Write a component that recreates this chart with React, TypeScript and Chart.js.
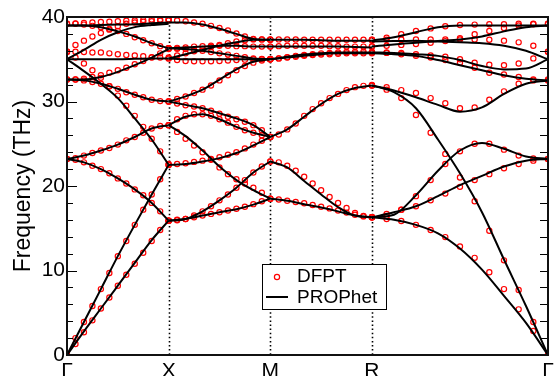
import React, { useEffect, useRef } from 'react';
import { Chart, registerables } from 'chart.js';

Chart.register(...registerables);

// High-symmetry path (Γ-X-M-R-Γ) positions and labels
const K_POS = [0, 0.5, 1.0, 1.5, 2.366];
const K_LABELS = ['Γ', 'X', 'M', 'R', 'Γ'];
const Y_MIN = 0;
const Y_MAX = 40;
const Y_STEP = 10;
const Y_MINOR = 2;
const Y_TITLE = 'Frequency (THz)';
const LABEL_DFPT = 'DFPT';
const LABEL_PROPHET = 'PROPhet';

// PROPhet bands, per segment (7 samples on short segments, 9 on R-Γ)
const prophetGX = [
  [0, 2.8, 5.5, 8.2, 10.9, 13.6, 15.9],
  [0, 3.9, 7.8, 11.7, 15.4, 19.0, 22.5],
  [23.2, 22.8, 22.0, 20.9, 19.6, 18.0, 15.9],
  [23.2, 23.6, 24.2, 24.9, 25.8, 26.8, 27.2],
  [32.6, 32.5, 32.1, 31.5, 30.8, 30.2, 30.0],
  [32.6, 32.6, 32.9, 33.5, 34.3, 35.2, 36.2],
  [35.0, 33.6, 32.1, 30.4, 28.0, 25.5, 22.5],
  [35.0, 35.0, 35.0, 35.0, 35.05, 35.1, 35.1],
  [35.0, 36.1, 37.3, 38.2, 38.8, 39.05, 39.2],
  [39.0, 39.0, 38.8, 38.3, 37.7, 36.9, 36.3],
  [39.0, 39.0, 39.05, 39.1, 39.15, 39.25, 39.35],
];
const prophetXM = [
  [15.9, 16.1, 16.5, 16.9, 17.25, 17.8, 18.5],
  [15.9, 16.1, 17.0, 18.3, 19.8, 21.6, 22.9],
  [22.5, 22.6, 22.9, 23.3, 23.9, 24.8, 25.8],
  [27.2, 25.9, 24.2, 22.3, 20.7, 19.5, 18.5],
  [27.2, 28.2, 28.5, 27.9, 27.0, 26.3, 25.8],
  [30.0, 29.6, 29.2, 28.6, 28.0, 27.2, 25.8],
  [30.0, 30.6, 31.4, 32.6, 33.8, 34.7, 35.0],
  [39.35, 39.35, 39.1, 38.6, 38.0, 37.4, 37.3],
  [36.3, 36.4, 36.5, 36.6, 36.6, 36.5, 36.5],
  [36.3, 36.2, 36.0, 35.7, 35.4, 35.1, 35.0],
  [35.1, 35.6, 36.1, 36.6, 37.0, 37.3, 37.3],
  [35.1, 35.0, 35.0, 35.0, 35.0, 35.0, 35.0],
];
const prophetMR = [
  [18.5, 18.25, 17.85, 17.45, 17.0, 16.5, 16.3],
  [22.9, 22.2, 20.6, 19.0, 17.5, 16.5, 16.3],
  [25.8, 26.7, 28.2, 29.7, 30.9, 31.6, 31.9],
  [35.0, 35.2, 35.4, 35.6, 35.7, 35.7, 35.7],
  [35.0, 35.3, 35.55, 35.7, 35.8, 35.8, 35.8],
  [36.5, 36.5, 36.5, 36.5, 36.5, 36.45, 36.4],
  [37.3, 37.3, 37.3, 37.25, 37.2, 37.2, 37.2],
];
const prophetRG = [
  [16.3, 16.0, 15.4, 14.4, 12.6, 10.1, 7.0, 3.8, 0],
  [31.9, 31.1, 29.2, 25.5, 21.5, 16.9, 11.3, 5.8, 0],
  [16.3, 16.6, 18.9, 21.8, 24.2, 25.1, 24.4, 23.5, 23.2],
  [16.3, 16.9, 17.6, 18.8, 20.1, 21.2, 22.3, 23.0, 23.2],
  [31.9, 31.3, 30.5, 29.6, 28.8, 29.3, 30.9, 32.1, 32.5],
  [35.7, 35.6, 35.4, 34.9, 34.3, 33.7, 33.1, 32.7, 32.5],
  [35.8, 35.75, 35.6, 35.4, 34.9, 34.2, 33.8, 33.9, 35.0],
  [37.1, 37.15, 37.2, 37.1, 37.0, 36.9, 36.6, 36.0, 35.0],
  [36.5, 36.75, 36.95, 37.15, 37.35, 37.7, 38.3, 38.8, 39.0],
  [37.2, 37.6, 38.2, 38.8, 39.0, 39.0, 39.0, 39.0, 39.0],
];

// DFPT points, per segment (13 q-points each)
const dfptGX = [
  [0, 1.3, 2.7, 4.1, 5.5, 6.8, 8.2, 9.5, 10.8, 12.1, 13.5, 14.8, 15.9],
  [0, 2.0, 3.9, 5.8, 7.8, 9.7, 11.7, 13.5, 15.4, 17.2, 19.0, 20.8, 22.5],
  [23.2, 23.1, 22.8, 22.4, 22.0, 21.5, 20.9, 20.3, 19.6, 18.9, 18.0, 17.0, 15.9],
  [23.2, 23.3, 23.6, 23.9, 24.2, 24.5, 24.9, 25.4, 25.8, 26.3, 26.8, 27.1, 27.2],
  [32.6, 32.6, 32.5, 32.3, 32.1, 31.8, 31.5, 31.1, 30.8, 30.5, 30.2, 30.05, 30.0],
  [32.6, 32.6, 32.7, 32.9, 33.1, 33.4, 33.7, 34.0, 34.4, 34.8, 35.2, 35.7, 36.2],
  [35.9, 35.2, 34.5, 33.7, 32.8, 31.8, 30.7, 29.5, 28.3, 27.0, 25.6, 24.1, 22.6],
  [35.9, 35.9, 35.85, 35.8, 35.8, 35.7, 35.6, 35.5, 35.45, 35.35, 35.25, 35.2, 35.1],
  [35.9, 36.7, 37.2, 37.7, 38.1, 38.5, 38.9, 39.2, 39.35, 39.45, 39.5, 39.55, 39.6],
  [39.2, 39.2, 39.1, 38.95, 38.8, 38.6, 38.35, 38.0, 37.6, 37.25, 36.9, 36.55, 36.3],
  [39.2, 39.25, 39.3, 39.35, 39.4, 39.45, 39.5, 39.55, 39.6, 39.65, 39.7, 39.7, 39.7],
];
const dfptXM = [
  [15.9, 16.0, 16.1, 16.3, 16.5, 16.7, 16.9, 17.1, 17.3, 17.55, 17.85, 18.2, 18.5],
  [15.9, 15.95, 16.1, 16.5, 17.0, 17.6, 18.3, 19.0, 19.8, 20.7, 21.6, 22.3, 22.9],
  [22.5, 22.6, 22.7, 22.85, 23.0, 23.2, 23.4, 23.7, 24.0, 24.45, 24.9, 25.35, 25.8],
  [27.2, 26.4, 25.6, 24.8, 24.0, 23.1, 22.2, 21.4, 20.8, 20.3, 19.8, 19.2, 18.5],
  [27.2, 27.9, 28.3, 28.5, 28.5, 28.3, 27.9, 27.5, 27.0, 26.6, 26.3, 26.0, 25.8],
  [30.0, 29.75, 29.55, 29.4, 29.2, 28.9, 28.55, 28.2, 27.9, 27.6, 27.2, 26.6, 25.8],
  [30.0, 30.3, 30.6, 31.0, 31.4, 31.9, 32.5, 33.1, 33.7, 34.2, 34.6, 34.85, 35.0],
  [39.7, 39.6, 39.5, 39.35, 39.2, 38.95, 38.7, 38.4, 38.05, 37.7, 37.4, 37.35, 37.3],
  [36.3, 36.35, 36.4, 36.5, 36.55, 36.6, 36.6, 36.6, 36.55, 36.55, 36.5, 36.5, 36.5],
  [36.3, 36.25, 36.2, 36.1, 36.0, 35.85, 35.7, 35.55, 35.4, 35.25, 35.1, 35.05, 35.0],
  [35.2, 35.45, 35.7, 35.95, 36.2, 36.45, 36.7, 36.9, 37.1, 37.25, 37.35, 37.35, 37.3],
  [35.1, 34.9, 34.8, 34.75, 34.75, 34.75, 34.8, 34.85, 34.9, 34.95, 35.0, 35.0, 35.0],
];
const dfptMR = [
  [18.5, 18.4, 18.25, 18.1, 17.95, 17.75, 17.55, 17.35, 17.1, 16.85, 16.6, 16.4, 16.3],
  [22.9, 22.8, 22.4, 21.8, 21.1, 20.3, 19.5, 18.7, 18.0, 17.4, 16.8, 16.45, 16.3],
  [25.8, 26.1, 26.7, 27.4, 28.3, 29.1, 29.8, 30.4, 30.9, 31.35, 31.7, 31.85, 31.95],
  [35.0, 35.1, 35.2, 35.3, 35.4, 35.5, 35.55, 35.6, 35.65, 35.7, 35.7, 35.7, 35.7],
  [35.0, 35.1, 35.25, 35.4, 35.5, 35.6, 35.7, 35.75, 35.8, 35.85, 35.85, 35.9, 35.9],
  [36.5, 36.55, 36.6, 36.6, 36.6, 36.6, 36.6, 36.55, 36.55, 36.5, 36.5, 36.5, 36.5],
  [37.35, 37.35, 37.35, 37.35, 37.3, 37.3, 37.3, 37.3, 37.3, 37.3, 37.3, 37.3, 37.3],
];
const dfptRG = [
  [16.3, 16.1, 15.85, 15.4, 14.8, 13.95, 12.85, 11.5, 9.8, 7.8, 5.4, 2.85, 0],
  [31.9, 31.4, 30.4, 28.4, 26.3, 23.8, 21.0, 18.2, 14.7, 11.2, 7.7, 3.9, 0],
  [16.3, 16.45, 17.2, 18.8, 20.7, 22.6, 24.1, 25.0, 25.0, 24.3, 23.6, 23.25, 23.2],
  [16.3, 16.7, 17.2, 17.6, 18.3, 19.1, 19.9, 20.7, 21.4, 22.1, 22.6, 23.0, 23.2],
  [31.9, 31.7, 31.35, 31.0, 30.4, 29.8, 29.2, 29.3, 30.2, 31.2, 32.1, 32.5, 32.6],
  [35.8, 35.75, 35.6, 35.4, 35.2, 34.9, 34.6, 34.0, 33.4, 33.2, 32.9, 32.6, 32.5],
  [35.8, 35.8, 35.75, 35.6, 35.45, 35.3, 35.0, 34.6, 34.35, 34.3, 34.5, 35.1, 35.9],
  [37.25, 37.3, 37.35, 37.35, 37.35, 37.35, 37.35, 37.35, 37.3, 37.2, 37.0, 36.6, 35.9],
  [36.55, 36.6, 36.7, 36.8, 36.95, 37.15, 37.5, 37.95, 38.35, 38.7, 39.0, 39.15, 39.2],
  [37.3, 37.55, 37.95, 38.35, 38.65, 38.9, 39.05, 39.1, 39.15, 39.15, 39.2, 39.2, 39.2],
];

const PROPHET_SEGMENTS = [prophetGX, prophetXM, prophetMR, prophetRG];
const DFPT_SEGMENTS = [dfptGX, dfptXM, dfptMR, dfptRG];

function toPoints(rows: number[][], seg: number) {
  const x0 = K_POS[seg];
  const x1 = K_POS[seg + 1];
  return rows.map((r) => r.map((y, i) => ({ x: x0 + ((x1 - x0) * i) / (r.length - 1), y })));
}

const decorPlugin = {
  id: 'decor',
  beforeDatasetsDraw(chart: any) {
    const { ctx, chartArea: a, scales } = chart;
    const xs = scales.x;
    ctx.save();
    ctx.strokeStyle = '#000';
    ctx.lineWidth = 1.6;
    ctx.setLineDash([1.5, 2.6]);
    for (const k of K_POS.slice(1, -1)) {
      const px = Math.round(xs.getPixelForValue(k)) + 0.5;
      ctx.beginPath();
      ctx.moveTo(px, a.top);
      ctx.lineTo(px, a.bottom);
      ctx.stroke();
    }
    ctx.restore();
  },
  afterDatasetsDraw(chart: any) {
    const { ctx, chartArea: a, scales } = chart;
    const ys = scales.y;
    ctx.save();
    // inward ticks on left and right
    ctx.strokeStyle = '#000';
    ctx.lineWidth = 1.2;
    for (let v = Y_MIN; v <= Y_MAX; v += Y_MINOR) {
      const py = Math.round(ys.getPixelForValue(v)) + 0.5;
      const major = v % Y_STEP === 0;
      const lenL = major ? 10 : 6;
      const lenR = 8;
      ctx.beginPath();
      ctx.moveTo(a.left, py);
      ctx.lineTo(a.left + lenL, py);
      ctx.moveTo(a.right, py);
      ctx.lineTo(a.right - lenR, py);
      ctx.stroke();
    }
    // frame
    ctx.lineWidth = 2;
    ctx.strokeStyle = '#111';
    ctx.strokeRect(a.left, a.top, a.right - a.left, a.bottom - a.top);

    // legend box
    const lx = a.left + 195;
    const ly = a.top + 247;
    const lw = 124;
    const lh = 45;
    ctx.fillStyle = '#fff';
    ctx.fillRect(lx, ly, lw, lh);
    ctx.lineWidth = 1;
    ctx.strokeStyle = '#000';
    ctx.strokeRect(lx + 0.5, ly + 0.5, lw, lh);
    // DFPT marker
    ctx.beginPath();
    ctx.strokeStyle = '#ff0000';
    ctx.lineWidth = 1.2;
    ctx.arc(lx + 15, ly + 13, 2.6, 0, Math.PI * 2);
    ctx.stroke();
    // PROPhet line
    ctx.beginPath();
    ctx.strokeStyle = '#000';
    ctx.lineWidth = 2;
    ctx.moveTo(lx + 4, ly + 33);
    ctx.lineTo(lx + 26, ly + 33);
    ctx.stroke();
    ctx.fillStyle = '#000';
    ctx.font = '19px "Liberation Sans", Arial, sans-serif';
    ctx.textBaseline = 'middle';
    ctx.textAlign = 'left';
    ctx.fillText(LABEL_DFPT, lx + 35, ly + 13);
    ctx.fillText(LABEL_PROPHET, lx + 35, ly + 34);
    ctx.restore();
  },
};

export default function App() {
  const ref = useRef<HTMLCanvasElement>(null);

  useEffect(() => {
    const canvas = ref.current;
    if (!canvas) return;

    const datasets: any[] = [];
    PROPHET_SEGMENTS.forEach((rows, s) => {
      toPoints(rows, s).forEach((pts) => {
        datasets.push({
          label: LABEL_PROPHET,
          data: pts,
          borderColor: '#000',
          borderWidth: 2,
          pointRadius: 0,
          fill: false,
          cubicInterpolationMode: 'monotone',
          order: 0,
        });
      });
    });
    DFPT_SEGMENTS.forEach((rows, s) => {
      toPoints(rows, s).forEach((pts) => {
        datasets.push({
          label: LABEL_DFPT,
          data: pts,
          showLine: false,
          pointRadius: 2.6,
          pointBorderWidth: 1.2,
          pointBorderColor: '#ff0000',
          pointBackgroundColor: 'rgba(0,0,0,0)',
          order: 1,
        });
      });
    });

    const chart = new Chart(canvas, {
      type: 'line',
      data: { datasets },
      options: {
        animation: false,
        responsive: false,
        devicePixelRatio: 1,
        events: [],
        layout: { padding: { top: 17, right: 6, left: 0, bottom: 0 } },
        plugins: {
          legend: { display: false },
          tooltip: { enabled: false },
        },
        scales: {
          x: {
            type: 'linear',
            min: K_POS[0],
            max: K_POS[K_POS.length - 1],
            grid: { display: false, drawTicks: false },
            border: { display: false },
            afterBuildTicks: (s: any) => {
              s.ticks = K_POS.map((v) => ({ value: v }));
            },
            afterFit: (s: any) => {
              s.height = 21;
              s.paddingLeft = 0;
              s.paddingRight = 0;
            },
            ticks: {
              autoSkip: false,
              maxRotation: 0,
              padding: 4,
              color: '#000',
              font: { size: 21, family: '"Liberation Sans", Arial, sans-serif' },
              callback: (_v: any, i: number) => K_LABELS[i],
            },
          },
          y: {
            min: Y_MIN,
            max: Y_MAX,
            grid: { display: false, drawTicks: false },
            border: { display: false },
            afterFit: (s: any) => {
              s.width = 67;
              s.paddingTop = 0;
              s.paddingBottom = 0;
            },
            ticks: {
              stepSize: Y_STEP,
              padding: 2,
              color: '#000',
              font: { size: 21, family: '"Liberation Sans", Arial, sans-serif' },
            },
            title: {
              display: true,
              text: Y_TITLE,
              color: '#000',
              padding: { top: 10, bottom: 0 },
              font: { size: 23, family: '"Liberation Sans", Arial, sans-serif' },
            },
          },
        },
      } as any,
      plugins: [decorPlugin],
    });

    return () => chart.destroy();
  }, []);

  return (
    <div style={{ position: 'fixed', left: 0, top: 0, width: 554, height: 376, background: '#fff' }}>
      <canvas ref={ref} width={554} height={376} style={{ display: 'block', width: 554, height: 376 }} />
    </div>
  );
}
